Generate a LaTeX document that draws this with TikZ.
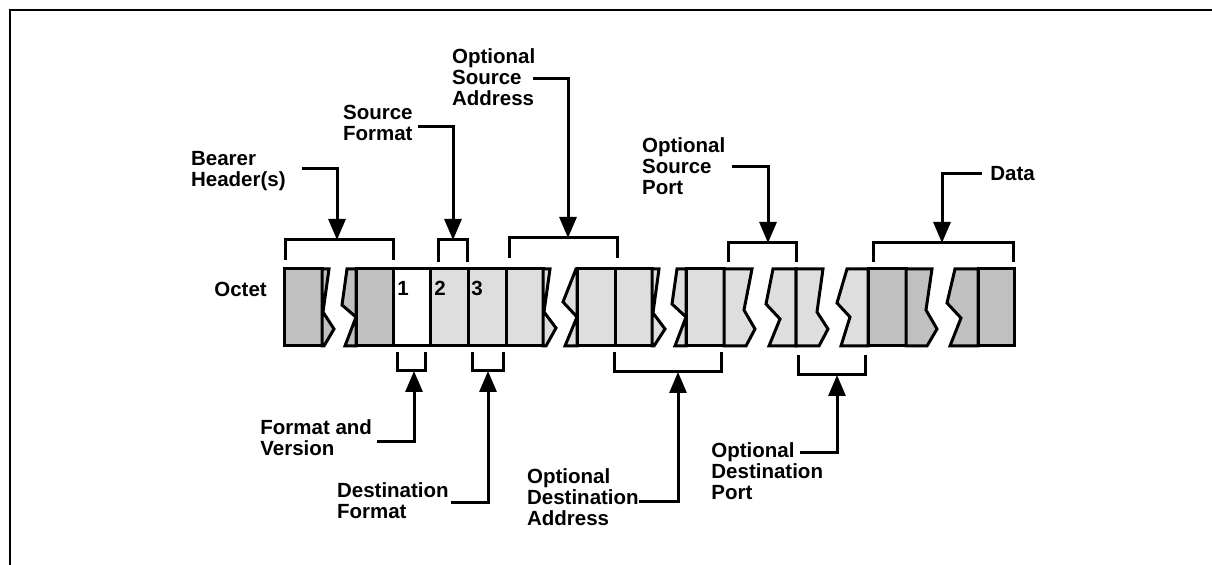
\documentclass[tikz,border=0pt]{standalone}
\usepackage{fontspec}
\setmainfont{Liberation Sans}
\usepackage{tikz}
\usetikzlibrary{arrows.meta, positioning}
\definecolor{hdrgray}{RGB}{192,192,192}
\definecolor{fieldgray}{RGB}{222,222,222}

\begin{document}
\begin{tikzpicture}[
  x=0.5pt, y=-0.5pt,
  cell/.style={draw, line width=1.5pt},
  hdr/.style={cell, fill=hdrgray},
  field/.style={cell, fill=fieldgray},
  bracket/.style={line width=1.5pt},
  arrow/.style={-{Triangle[length=10.5pt, width=8.5pt]}, line width=1.5pt},
  txt/.style={anchor=north west, inner sep=0pt, align=left,
              font=\bfseries\fontsize{10.25pt}{10.5pt}\selectfont}]

  \useasboundingbox (0,0) rectangle (1212,565);
  \draw[line width=1.4pt] (10,565) -- (10,10) -- (1212,10);

  % bearer header(s)
  \draw[hdr] (284,269) rectangle (322,346);
  \draw[hdr] (322,269) -- (329,269) -- (323,312) -- (334,329) -- (324,346) -- (322,346) -- cycle;
  \draw[hdr] (347,269) -- (342,305) -- (356,317) -- (345,346) -- (356,346) -- (356,269) -- cycle;
  \draw[hdr] (356,269) rectangle (393,346);

  % octets 1..n
  \draw[cell, fill=white] (393,269) rectangle (430,346);
  \draw[field] (430,269) rectangle (468,346);
  \draw[field] (468,269) rectangle (506,346);
  \draw[field] (506,269) rectangle (543,346);
  \draw[field] (543,269) -- (550,269) -- (544,312) -- (556,328) -- (546,346) -- (543,346) -- cycle;
  \draw[field] (576,269) -- (563,302) -- (577,317) -- (565,346) -- (577,346) -- (577,269) -- cycle;
  \draw[field] (577,269) rectangle (615,346);
  \draw[field] (615,269) rectangle (652,346);
  \draw[field] (652,269) -- (659,269) -- (653,313) -- (665,329) -- (654,346) -- (652,346) -- cycle;
  \draw[field] (677,269) -- (672,304) -- (686,317) -- (675,346) -- (686,346) -- (686,269) -- cycle;
  \draw[field] (686,269) rectangle (724,346);
  \draw[field] (724,269) -- (752,269) -- (744,310) -- (755,329) -- (746,346) -- (724,346) -- cycle;
  \draw[field] (773,269) -- (766,304) -- (780,319) -- (769,346) -- (796,346) -- (796,269) -- cycle;
  \draw[field] (796,269) -- (823,269) -- (817,312) -- (828,329) -- (819,346) -- (796,346) -- cycle;
  \draw[field] (847,269) -- (837,303) -- (850,317) -- (841,346) -- (868,346) -- (868,269) -- cycle;

  % data
  \draw[hdr] (868,269) rectangle (906,346);
  \draw[hdr] (906,269) -- (932,269) -- (926,310) -- (937,329) -- (927,346) -- (906,346) -- cycle;
  \draw[hdr] (955,269) -- (947,303) -- (961,318) -- (950,346) -- (978,346) -- (978,269) -- cycle;
  \draw[hdr] (978,269) rectangle (1014,346);

  \node[txt] (octet) at (214,282) {Octet};
  \node[txt, anchor=base west] (n1) at (397,296) {1};
  \node[txt, anchor=base west] (n2) at (434,296) {2};
  \node[txt, anchor=base west] (n3) at (471,296) {3};

  % brackets above
  \draw[bracket] (285,260) -- (285,240) -- (393,240) -- (393,260);
  \draw[bracket] (438,262) -- (438,240) -- (467,240) -- (467,262);
  \draw[bracket] (509,258) -- (509,238) -- (617,238) -- (617,258);
  \draw[bracket] (728,262) -- (728,243) -- (796,243) -- (796,262);
  \draw[bracket] (873,262) -- (873,243) -- (1013,243) -- (1013,262);
  \coordinate (bearerTip) at (337,240);
  \coordinate (srcfmtTip) at (453,240);
  \coordinate (srcaddrTip) at (568,238);
  \coordinate (srcportTip) at (768,243);
  \coordinate (dataTip) at (942,243);

  % brackets below
  \draw[bracket] (397,352) -- (397,371) -- (425,371) -- (425,352);
  \draw[bracket] (472,352) -- (472,371) -- (503,371) -- (503,352);
  \draw[bracket] (614,352) -- (614,372) -- (721,372) -- (721,352);
  \draw[bracket] (798,355) -- (798,375) -- (865,375) -- (865,355);
  \coordinate (fmtverTip) at (414,371);
  \coordinate (dstfmtTip) at (488,371);
  \coordinate (dstaddrTip) at (678,372);
  \coordinate (dstportTip) at (837,375);

  \node[txt] (bearer) at (190.7,151) {Bearer\\Header(s)};
  \node[txt] (srcfmt) at (342.7,104.3) {Source\\Format};
  \node[txt] (srcaddr) at (451.7,48.6) {Optional\\Source\\Address};
  \node[txt] (srcport) at (641.7,137) {Optional\\Source\\Port};
  \node[txt] (data) at (990,165.8) {Data};
  \node[txt] (fmtver) at (260,419.6) {Format and\\Version};
  \node[txt] (dstfmt) at (336.7,482.6) {Destination\\Format};
  \node[txt] (dstaddr) at (526.7,468.6) {Optional\\Destination\\Address};
  \node[txt] (dstport) at (711,442.6) {Optional\\Destination\\Port};

  \draw[arrow] ([xshift=7.9pt, yshift=1.35pt]bearer.east) -| (bearerTip);
  \draw[arrow] ([xshift=2.25pt, yshift=-1.9pt]srcfmt.east) -| (srcfmtTip);
  \draw[arrow] ([xshift=-1.5pt, yshift=-0.35pt]srcaddr.east) -| (srcaddrTip);
  \draw[arrow] ([xshift=3pt, yshift=-0.3pt]srcport.east) -| (srcportTip);
  \draw[arrow] ([xshift=-4.15pt]data.west) -| (dataTip);
  \draw[arrow] ([xshift=2.2pt, yshift=-1.6pt]fmtver.east) -| (fmtverTip);
  \draw[arrow] ([xshift=0.85pt, yshift=-0.6pt]dstfmt.east) -| (dstfmtTip);
  \draw[arrow] ([yshift=-1.85pt]dstaddr.east) -| (dstaddrTip);
  \draw[arrow] ([xshift=-11.65pt, yshift=9.65pt]dstport.east) -| (dstportTip);
\end{tikzpicture}
\end{document}
